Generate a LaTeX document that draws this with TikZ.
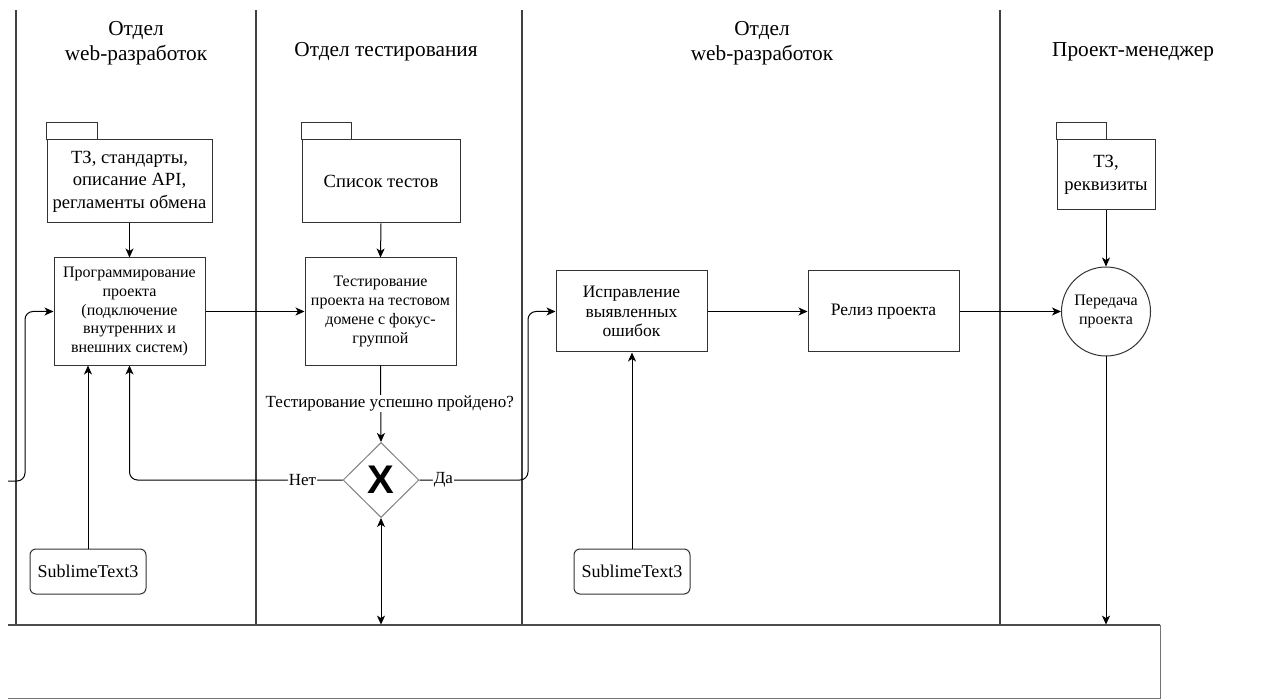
\documentclass[tikz,border=0pt]{standalone}
\usepackage{fontspec}
\setmainfont{Liberation Serif}
\newfontfamily\ser{Liberation Serif}
\newfontfamily\xsans{Liberation Sans}
\usetikzlibrary{shapes.geometric,arrows.meta}
\begin{document}
\begin{tikzpicture}[x=0.5pt,y=-0.5pt,
  tip/.style={Stealth[length=4.5pt,width=4pt,inset=1.25pt]},
  arr/.style={-{Stealth[length=4.5pt,width=4pt,inset=1.25pt]}, line width=0.5pt, draw=black},
  box/.style={draw=black!80, line width=0.5pt, fill=white, align=center, inner sep=1pt},
  fold/.style={box, font=\ser\fontsize{9.3}{11.25}\selectfont},
  tab/.style={draw=black!80, line width=0.5pt, fill=white},
  lane/.style={draw=black!75, line width=1.3pt},
  hdr/.style={align=center, font=\ser\fontsize{10.65}{12.5}\selectfont},
  tool/.style={draw=black!80, line width=0.5pt, rounded corners=3pt, fill=white, minimum width=58pt, minimum height=22.5pt, inner sep=0.5pt, font=\ser\fontsize{9}{10.5}\selectfont},
  lbl/.style={fill=white, inner sep=0.5pt, font=\ser\fontsize{8.5}{9.5}\selectfont}
]
\useasboundingbox (0,0) rectangle (1264,700);

% lanes
\draw[lane] (16,10) -- (16,625);
\draw[lane] (256,10) -- (256,625);
\draw[lane] (522,10) -- (522,625);
\draw[lane] (1000,10) -- (1000,625);

% headers
\node[hdr] (h1) at (136,43) {Отдел\\web-разработок};
\node[hdr] (h2) at (386,52) {Отдел тестирования};
\node[hdr] (h3) at (762,43) {Отдел\\web-разработок};
\node[hdr] (h4) at (1133,52) {Проект-менеджер};

% bottom rectangle
\node[minimum width=576pt, minimum height=36.5pt, inner sep=0pt] (bot) at (584,661.5) {};
\draw[draw=black!70, line width=1pt] (bot.north west) -- (bot.north east);
\draw[draw=black!55, line width=0.5pt] (bot.north east) -- (bot.south east) -- (bot.south west);

% folders
\node[fold, minimum width=82.5pt, minimum height=41.5pt] (f1) at (129.5,181.5) {ТЗ, стандарты,\\описание API,\\регламенты обмена};
\draw[tab] (f1.north west) rectangle ++(51,-17);
\node[fold, minimum width=79pt, minimum height=41.5pt] (f2) at (381,181.5) {Список тестов};
\draw[tab] (f2.north west) rectangle ++(50,-17);
\node[fold, minimum width=49pt, minimum height=35pt] (f3) at (1106,175) {ТЗ,\\реквизиты};
\draw[tab] (f3.north west) rectangle ++(50,-17);

% process boxes
\node[box, minimum width=75.5pt, minimum height=53.5pt, font=\ser\fontsize{8}{9.35}\selectfont] (prog) at (129.5,311.5)
  {Программирование\\проекта\\(подключение\\внутренних и\\внешних систем)};
\node[box, minimum width=75.5pt, minimum height=53.5pt, font=\ser\fontsize{8}{9.35}\selectfont] (test) at (380.5,311.5)
  {Тестирование\\проекта на тестовом\\домене с фокус-\\группой};
\node[box, minimum width=75.5pt, minimum height=40.5pt, font=\ser\fontsize{8.75}{9.75}\selectfont] (fix) at (631.5,311.5)
  {Исправление\\выявленных\\ошибок};
\node[box, minimum width=75.5pt, minimum height=40.5pt, font=\ser\fontsize{8.75}{9.75}\selectfont] (rel) at (883.5,311.5)
  {Релиз проекта};
\node[draw=black!80, line width=0.5pt, circle, minimum size=44.5pt, inner sep=0pt, align=center, font=\ser\fontsize{8}{9.5}\selectfont] (circ) at (1106,311.5)
  {Передача\\проекта};

% gateway
\node[draw=black!50, line width=0.5pt, diamond, aspect=1, minimum width=38pt, minimum height=37.5pt, inner sep=0pt, fill=white] (gw) at (381,480) {};
\node[font=\xsans\bfseries\fontsize{20}{20}\selectfont, inner sep=0pt] (gx) at (gw.center) {X};

% tools
\node[tool] (s1) at (88,571.5) {SublimeText3};
\node[tool] (s2) at (632,571.5) {SublimeText3};

% connectors
\coordinate (in1) at (8,481);
\coordinate (da1) at (528,480);
\draw[arr] (f1.south) -- (prog.north);
\draw[arr] (f2.south) -- (test.north);
\draw[arr] (f3.south) -- (circ.north);
\draw[arr] (prog.east) -- (test.west);
\draw[arr] (fix.east) -- (rel.west);
\draw[arr] (rel.east) -- (circ.west);
\draw[arr, rounded corners=4pt] (in1) -- ++(17,0) |- (prog.west);
\draw[arr] (s1.north) -- (s1.north |- prog.south);
\draw[arr] (s2.north) -- (s2.north |- fix.south);
\draw[arr] (test.south) -- node[lbl, xshift=4.5pt] {Тестирование успешно пройдено?} (gw.north);
\draw[arr, rounded corners=4pt] (gw.west) -| node[lbl, pos=0.094] {Нет} (prog.south);
\draw[arr, rounded corners=4pt] (gw.east) -- node[lbl, pos=0.22] {Да} (da1) |- (fix.west);
\draw[{Stealth[length=4.5pt,width=4pt,inset=1.25pt]}-{Stealth[length=4.5pt,width=4pt,inset=1.25pt]}, line width=0.5pt] (gw.south) -- (gw.south |- bot.north);
\draw[arr] (circ.south) -- (circ.south |- bot.north);
\end{tikzpicture}
\end{document}
